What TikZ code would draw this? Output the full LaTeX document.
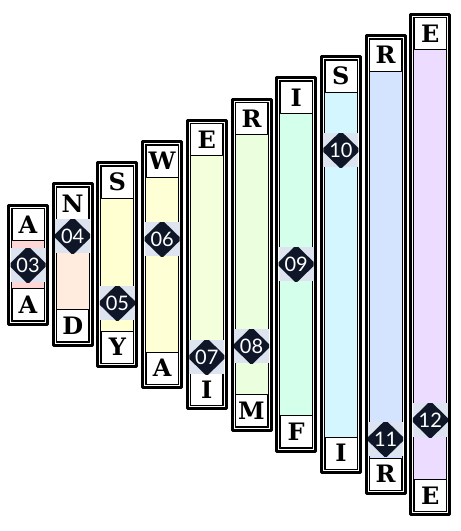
\documentclass[tikz,border=0pt]{standalone}
\usepackage{fontspec}
\newfontfamily\letterfont{DejaVu Serif}
\newfontfamily\badgefont{Lato}

\definecolor{fillA}{HTML}{FFD6D6}
\definecolor{fillB}{HTML}{FFECDF}
\definecolor{fillC}{HTML}{FFFFD2}
\definecolor{fillD}{HTML}{FFFFD6}
\definecolor{fillE}{HTML}{F4FFDC}
\definecolor{fillF}{HTML}{EBFFDF}
\definecolor{fillG}{HTML}{D4FFEA}
\definecolor{fillH}{HTML}{D4F6FF}
\definecolor{fillI}{HTML}{D4E4FF}
\definecolor{fillJ}{HTML}{ECDCFF}
\definecolor{badgebg}{HTML}{DDE3EF}
\definecolor{badgeink}{HTML}{0E1628}

\tikzset{
  letterbox/.style={draw, fill=white, line width=0.8pt, minimum size=32pt, inner sep=0pt,
    font=\fontsize{24}{24}\letterfont\bfseries},
  badgenum/.style={text=white, inner sep=0pt, font=\fontsize{20}{20}\badgefont}
}

\begin{document}
\begin{tikzpicture}[x=1pt, y=-1pt, line join=round]
		
		% Parameters
		\def\W{42}    % column width
		\def\G{44.7}  % column pitch
		\def\yc{264.5} % common centre line
		
		\useasboundingbox (0,0) rectangle (461,531);
		
		% 1. Columns with top/bottom letters and a numbered badge
		\foreach \k/\ltop/\lbot/\fc/\by/\nr in {
				0/A/A/fillA/265/03, 1/N/D/fillB/236/04, 2/S/Y/fillC/303/05,
				3/W/A/fillD/239/06, 4/E/I/fillE/357/07, 5/R/M/fillF/346/08,
				6/I/F/fillG/264/09, 7/S/I/fillH/150/10, 8/R/R/fillI/439/11,
				9/E/E/fillJ/420/12} {
			\pgfmathsetmacro{\xl}{7+\G*\k}
			\pgfmathsetmacro{\xr}{\xl+\W}
			\pgfmathsetmacro{\xm}{\xl+\W/2}
			\pgfmathsetmacro{\hh}{61+21.2*\k}
			\pgfmathsetmacro{\yt}{\yc-\hh}
			\pgfmathsetmacro{\yb}{\yc+\hh}
			
			% frame: thick outer line, white gap, thin inner line
			\fill[white] (\xl,\yt) rectangle (\xr,\yb);
			\draw[line width=3pt] (\xl+1.5,\yt+1.5) rectangle (\xr-1.5,\yb-1.5);
			\filldraw[fill=\fc, line width=1pt] (\xl+4.5,\yt+4.5) rectangle (\xr-4.5,\yb-4.5);
			
			% letters
			\node[letterbox] (top\nr) at (\xm,\yt+21) {\ltop};
			\node[letterbox] (bot\nr) at (\xm,\yb-21) {\lbot};
			
			% badge
			\fill[badgebg] (\xm-17.5,\by-17) rectangle (\xm+17.5,\by+17);
			\begin{scope}
				\clip (\xm-17.5,\by-17) rectangle (\xm+17.5,\by+17);
				\fill[badgeink] (\xm-19.5,\by) -- (\xm,\by-19) -- (\xm+19.5,\by) -- (\xm,\by+19) -- cycle;
			\end{scope}
			\node[badgenum] (badge\nr) at (\xm,\by) {\nr};
		}
		
	\end{tikzpicture}
\end{document}
